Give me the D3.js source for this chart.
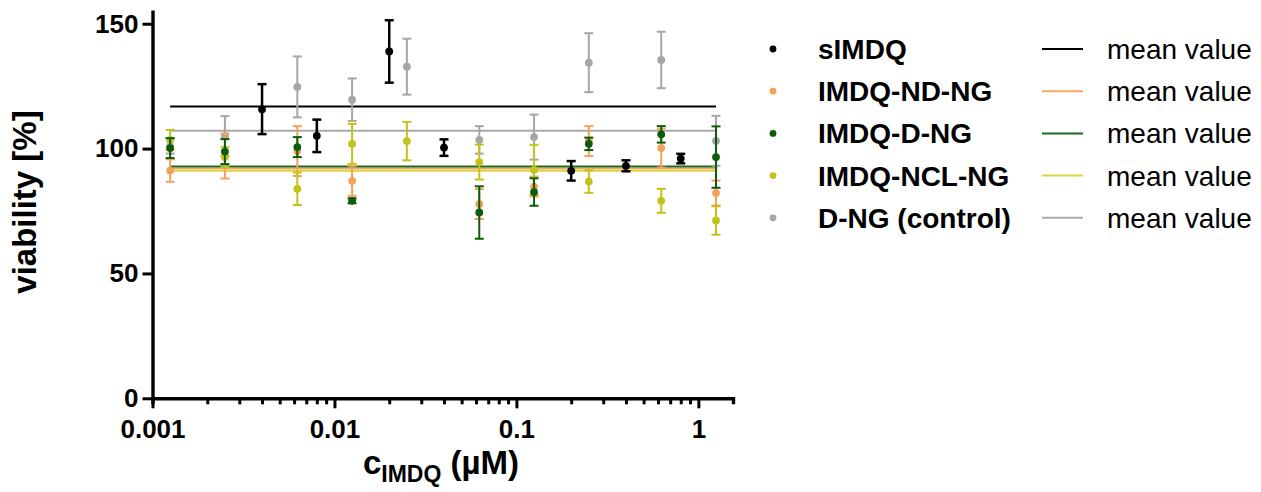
<!DOCTYPE html>
<html>
<head>
<meta charset="utf-8">
<script src="https://cdn.jsdelivr.net/npm/d3@7"></script>
<style>
  html, body { margin: 0; padding: 0; background: #fff; }
  svg { display: block; font-family: "Liberation Sans", Arial, sans-serif; }
</style>
</head>
<body>
<svg id="chart" width="1261" height="492"></svg>
<script>
// Concentrations (µM)
const ngConc = [0.00125, 0.0025, 0.00625, 0.0125, 0.025, 0.0625, 0.125, 0.25, 0.625, 1.25];
const sConc = [0.004, 0.008, 0.02, 0.04, 0.2, 0.4, 0.8];

// Viability [%] and standard deviations
const sIMDQ = [115.8, 105.1, 138.9, 100.4, 91.1, 93.1, 96.0];
const sIMDQsd = [10, 6.5, 12.5, 3.3, 3.9, 2.2, 1.9];

const ndNG = [91.2, 97, 99, 87.1, null, 77.8, 84.8, 103, 100.2, 82.2];
const ndNGsd = [4.5, 9, 10, 6, null, 6, 4, 6, 7.8, 5];

const dNG = [100.2, 98.8, 100.6, 79.1, null, 74.4, 82.6, 101.9, 105.7, 96.6];
const dNGsd = [4, 5, 4, 1, null, 10.5, 5.5, 2.5, 3.3, 12.3];

const nclNG = [103.5, 96.6, 83.9, 101.9, 103, 94.6, 91.5, 86.8, 79.1, 71.2];
const nclNGsd = [4, 4, 6.5, 8, 7.7, 7, 10, 4.5, 4.8, 5.7];

const ctrl = [101, 105, 124.7, 119.6, 132.8, 103.5, 104.6, 134.4, 135.5, 103.1];
const ctrlsd = [3, 8, 12.2, 8.5, 11.2, 5.5, 9, 11.8, 11.3, 10];

const seriesNames = ["sIMDQ", "IMDQ-ND-NG", "IMDQ-D-NG", "IMDQ-NCL-NG", "D-NG (control)"];
const meanValues = [116.9, 92.0, 92.8, 91.1, 107.1];
const pointColors = ["#000000", "#f4a25a", "#0c5c0c", "#c3c21b", "#a6a6a6"];
const lineColors = ["#000000", "#f5a862", "#1e6a1e", "#d8d640", "#aaaaaa"];

const yTicks = [0, 50, 100, 150];
const xTicks = [0.001, 0.01, 0.1, 1];
const xTickLabels = ["0.001", "0.01", "0.1", "1"];

const series = [
  { name: seriesNames[0], conc: sConc, val: sIMDQ, sd: sIMDQsd, color: pointColors[0], line: lineColors[0], mean: meanValues[0] },
  { name: seriesNames[1], conc: ngConc, val: ndNG, sd: ndNGsd, color: pointColors[1], line: lineColors[1], mean: meanValues[1] },
  { name: seriesNames[2], conc: ngConc, val: dNG, sd: dNGsd, color: pointColors[2], line: lineColors[2], mean: meanValues[2] },
  { name: seriesNames[3], conc: ngConc, val: nclNG, sd: nclNGsd, color: pointColors[3], line: lineColors[3], mean: meanValues[3] },
  { name: seriesNames[4], conc: ngConc, val: ctrl, sd: ctrlsd, color: pointColors[4], line: lineColors[4], mean: meanValues[4] }
];

const svg = d3.select("#chart");

const x = d3.scaleLog().domain([0.001, 1.55]).range([152.5, 733]);
const y = d3.scaleLinear().domain([0, 155.5]).range([398.3, 10]);

// mean value lines span the nanogel dilution range
const meanLayer = svg.append("g");
[4, 1, 2, 3, 0].forEach(i => {
  const s = series[i];
  meanLayer.append("line")
    .attr("x1", x(ngConc[0])).attr("x2", x(ngConc[ngConc.length - 1]))
    .attr("y1", y(s.mean)).attr("y2", y(s.mean))
    .attr("stroke", s.line).attr("stroke-width", 2);
});

// error bars and points
const drawOrder = [4, 1, 3, 2, 0];
drawOrder.forEach(i => {
  const s = series[i];
  const pts = s.conc.map((c, k) => ({ c, v: s.val[k], sd: s.sd[k] })).filter(d => d.v != null);
  const g = svg.append("g");
  const sw = i === 0 ? 2.5 : 2;
  const cap = 4.5;
  pts.forEach(d => {
    const cx = x(d.c);
    g.append("line").attr("x1", cx).attr("x2", cx)
      .attr("y1", y(d.v - d.sd)).attr("y2", y(d.v + d.sd))
      .attr("stroke", s.color).attr("stroke-width", sw);
    [d.v - d.sd, d.v + d.sd].forEach(e => {
      g.append("line").attr("x1", cx - cap).attr("x2", cx + cap)
        .attr("y1", y(e)).attr("y2", y(e))
        .attr("stroke", s.color).attr("stroke-width", sw);
    });
    g.append("circle").attr("cx", cx).attr("cy", y(d.v)).attr("r", 3.9).attr("fill", s.color);
  });
});

// y axis
const yAxis = d3.axisLeft(y).tickValues(yTicks).tickSize(10).tickPadding(4).tickSizeOuter(0);
const gy = svg.append("g").attr("transform", `translate(${x(0.001)},0)`).call(yAxis);
gy.select(".domain").attr("stroke", "#000").attr("stroke-width", 3.4);
gy.selectAll(".tick line").attr("stroke", "#000").attr("stroke-width", 3);
gy.selectAll(".tick text").attr("font-size", 26).attr("font-weight", "bold").attr("fill", "#000")
  .attr("font-family", "Liberation Sans, Arial, sans-serif");

// x axis: major ticks at decades, minor ticks in between
const minor = [];
[0.001, 0.01, 0.1, 1].forEach(dec => {
  for (let m = 2; m <= 9; m++) { const v = dec * m; if (v <= 1.55) minor.push(v); }
});
const gx = svg.append("g").attr("transform", `translate(0,${y(0)})`);
gx.call(d3.axisBottom(x).tickValues(minor).tickSize(6).tickFormat(""));
gx.select(".domain").attr("stroke", "#000").attr("stroke-width", 3.4);
gx.selectAll(".tick line").attr("stroke", "#000").attr("stroke-width", 3);
const gx2 = svg.append("g").attr("transform", `translate(0,${y(0)})`);
gx2.call(d3.axisBottom(x).tickValues(xTicks).tickSize(10).tickPadding(11)
  .tickFormat((d, k) => xTickLabels[k]));
gx2.select(".domain").remove();
gx2.selectAll(".tick line").attr("stroke", "#000").attr("stroke-width", 3);
gx2.selectAll(".tick text").attr("font-size", 26).attr("font-weight", "bold").attr("fill", "#000")
  .attr("font-family", "Liberation Sans, Arial, sans-serif");

// axis titles
svg.append("text")
  .attr("transform", "translate(36,202) rotate(-90)")
  .attr("text-anchor", "middle")
  .attr("font-size", 33).attr("font-weight", "bold")
  .text("viability [%]");

const xt = svg.append("text")
  .attr("x", 441).attr("y", 474)
  .attr("text-anchor", "middle")
  .attr("font-size", 33).attr("font-weight", "bold");
xt.append("tspan").text("c");
xt.append("tspan").attr("font-size", 23).attr("dy", 8).text("IMDQ");
xt.append("tspan").attr("dy", -8).text(" (µM)");

// legend
const legend = svg.append("g");
series.forEach((s, i) => {
  const cy = 49 + 42.2 * i;
  legend.append("circle").attr("cx", 773).attr("cy", cy).attr("r", 3.4).attr("fill", s.color);
  legend.append("text").attr("x", 818).attr("y", cy).attr("dy", "0.36em")
    .attr("font-size", 28).attr("font-weight", "bold").text(s.name);
  legend.append("line").attr("x1", 1042).attr("x2", 1083).attr("y1", cy).attr("y2", cy)
    .attr("stroke", s.line).attr("stroke-width", 2);
  legend.append("text").attr("x", 1107).attr("y", cy).attr("dy", "0.36em")
    .attr("font-size", 28).text("mean value");
});
</script>
</body>
</html>
